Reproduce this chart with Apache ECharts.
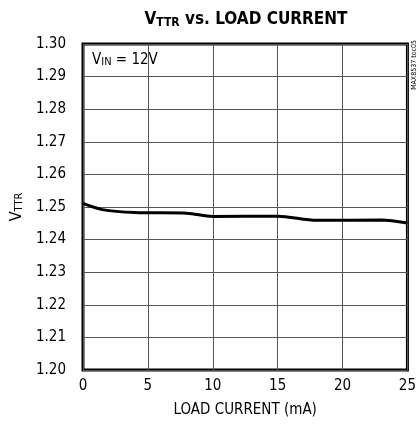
<!DOCTYPE html>
<html>
<head>
<meta charset="utf-8">
<script src="https://cdn.jsdelivr.net/npm/echarts@6/dist/echarts.min.js"></script>
<style>
  html, body { margin: 0; padding: 0; background: #fff; }
  #chart { width: 419px; height: 431px; }
</style>
</head>
<body>
<div id="chart"></div>
<script>
// load current (mA) and V_TTR
var loadCurrent = [0, 1.5, 4, 8, 10, 15, 18, 23, 25];
var vttr = [1.2511, 1.2492, 1.2483, 1.2481, 1.2471, 1.2472, 1.2459, 1.2460, 1.2451];

var FONT = "'Liberation Sans Narrow', 'DejaVu Sans Condensed', sans-serif";

function pageInit() {
    var myChart = echarts.init(document.getElementById('chart'));
    var points = loadCurrent.map(function (x, i) { return [x, vttr[i]]; });

    var option = {
        animation: false,
        backgroundColor: '#fff',
        title: {
            text: 'V{s|TTR} vs. LOAD CURRENT',
            left: 241,
            textAlign: 'center',
            top: 6,
            textStyle: {
                fontFamily: FONT,
                fontWeight: 'bold',
                fontSize: 17,
                color: '#000',
                rich: {
                    s: { fontFamily: FONT, fontWeight: 'bold', fontSize: 12, color: '#000', padding: [6, 0, 0, 0] }
                }
            }
        },
        grid: {
            left: 83, right: 10, top: 44, bottom: 61,
            show: true, borderColor: '#000', borderWidth: 3
        },
        xAxis: {
            type: 'value',
            min: 0, max: 25, interval: 5,
            name: 'LOAD CURRENT (mA)',
            nameLocation: 'middle',
            nameGap: 33,
            nameTextStyle: { fontFamily: FONT, fontSize: 15, color: '#000' },
            axisLine: { show: false },
            axisTick: { show: false },
            axisLabel: { fontFamily: FONT, fontSize: 15, color: '#000', margin: 9 },
            splitLine: { show: true, lineStyle: { color: '#555', width: 1 } }
        },
        yAxis: {
            type: 'value',
            min: 1.2, max: 1.3, interval: 0.01,
            name: 'V{s|TTR}',
            nameLocation: 'middle',
            nameGap: 58,
            nameRotate: 90,
            nameTextStyle: {
                fontFamily: FONT, fontSize: 16, color: '#000',
                rich: { s: { fontFamily: FONT, fontSize: 11, color: '#000', padding: [6, 0, 0, 0] } }
            },
            axisLine: { show: false },
            axisTick: { show: false },
            axisLabel: {
                fontFamily: FONT, fontSize: 15, color: '#000', margin: 17,
                formatter: function (v) { return v.toFixed(2); }
            },
            splitLine: { show: true, lineStyle: { color: '#555', width: 1 } }
        },
        graphic: [
            {
                type: 'text',
                left: 92, top: 52,
                style: {
                    text: 'V{s|IN} = 12V',
                    fontFamily: FONT, fontSize: 15, fill: '#000',
                    backgroundColor: '#fff',
                    rich: { s: { fontFamily: FONT, fontSize: 11, fill: '#000', padding: [5, 0, 0, 0] } }
                }
            },
            {
                type: 'text',
                x: 418, y: 40,
                rotation: Math.PI / 2,
                style: {
                    text: 'MAX8537 toc05',
                    fontFamily: FONT, fontSize: 7, fill: '#000',
                    align: 'right', verticalAlign: 'bottom'
                }
            }
        ],
        series: [{
            type: 'line',
            data: points,
            symbol: 'none',
            smooth: 0.3,
            lineStyle: { color: '#000', width: 3 }
        }]
    };
    myChart.setOption(option);
}

window.onload = function () {
    pageInit();
}
</script>
</body>
</html>
